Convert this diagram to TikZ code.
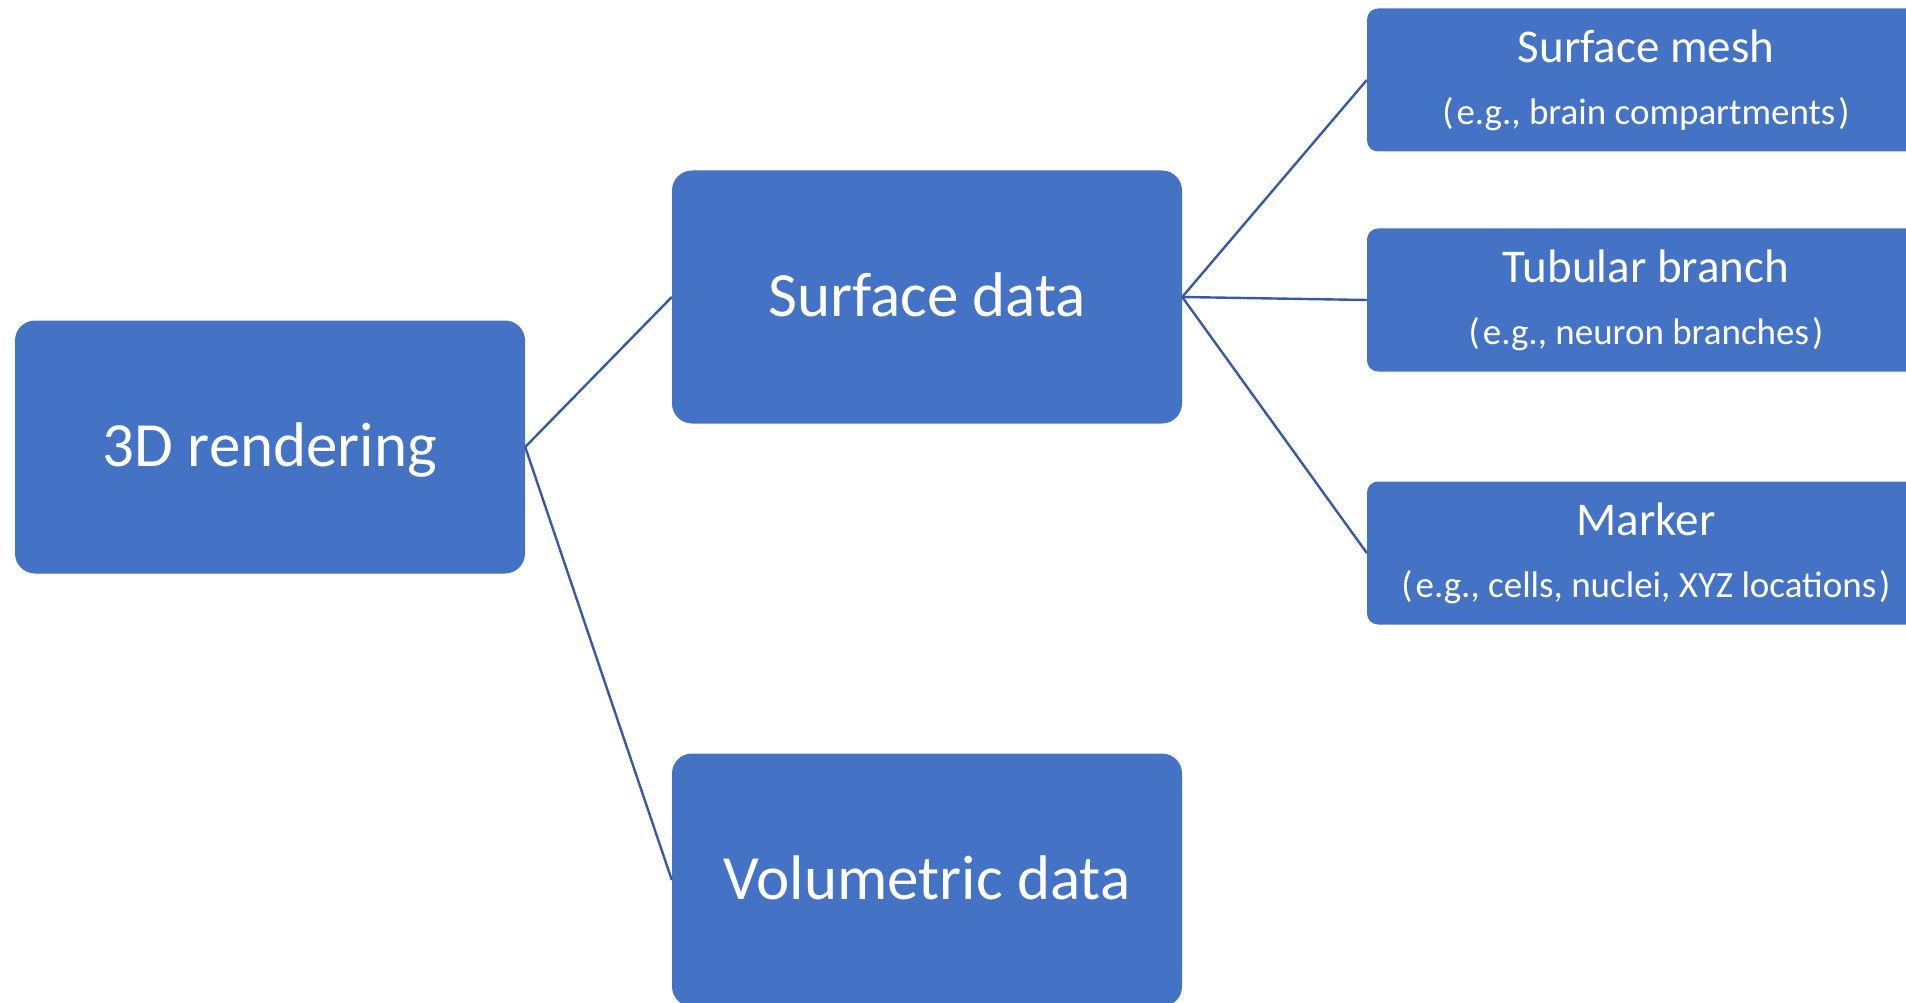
\documentclass[tikz,border=0pt]{standalone}
\usepackage{fontspec}
\setmainfont{Carlito}
\usepackage{tikz}
\definecolor{boxblue}{HTML}{4472C4}
\definecolor{lineblue}{RGB}{56,90,165}
\tikzstyle{link} = [draw, lineblue, line width=2.4pt]
\tikzstyle{bigbox} = [rectangle, rounded corners=20pt, fill=boxblue, text=white, minimum width=510pt, minimum height=253pt, inner sep=0pt, text height=51pt, text depth=13pt, font=\fontsize{63}{70}\selectfont]
\tikzstyle{sidebox} = [rectangle, rounded corners=11pt, fill=boxblue, text=white, minimum width=558pt, minimum height=143pt, inner sep=0pt, align=center, font=\fontsize{47}{62}\selectfont]
\newcommand{\egtext}[1]{{\fontsize{37}{62}\selectfont (\kern3pt#1\kern3pt)}}

\begin{document}
\begin{tikzpicture}
	\useasboundingbox (0pt,0pt) rectangle (1906pt,-1003pt);
	
	\node[bigbox] (render) at (270pt,-447pt) {3D rendering};
	\node[bigbox, right of=render, node distance=657pt, yshift=150pt] (surf) {Surface data};
	\node[bigbox, right of=render, node distance=657pt, yshift=-433pt] (vol) {Volumetric data};
	\path [link] (render.east) to (surf.west);
	\path [link] (render.east) to (vol.west);
	
	
	\node[sidebox, right of=surf, node distance=719pt, yshift=217pt] (mesh) {Surface mesh\\\egtext{e.g., brain compartments}};
	\node[sidebox, right of=surf, node distance=719pt, yshift=-3pt] (tube) {Tubular branch\\\egtext{e.g., neuron branches}};
	\node[sidebox, right of=surf, node distance=719pt, yshift=-256pt] (marker) {Marker\\\egtext{e.g., cells, nuclei, XYZ locations}};
	
	\path [link] (surf.east) to (mesh.west);
	\path [link] (surf.east) to (tube.west);
	\path [link] (surf.east) to (marker.west);
\end{tikzpicture}
\end{document}
